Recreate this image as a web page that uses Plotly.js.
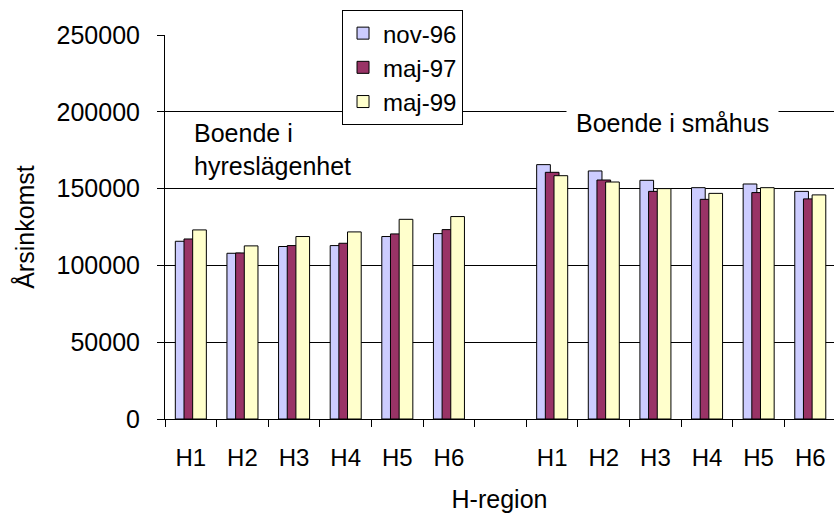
<!DOCTYPE html>
<html>
<head>
<meta charset="utf-8">
<script src="https://cdn.plot.ly/plotly-3.0.1.min.js"></script>
<style>html,body{margin:0;padding:0;background:#fff}</style>
</head>
<body>
<div id="chart" style="width:834px;height:515px"></div>
<script>
const regions = ["H1","H2","H3","H4","H5","H6"];
const groupLabels = ["Boende i<br>hyreslägenhet", "Boende i småhus"];
const seriesNames = ["nov-96","maj-97","maj-99"];
const nov96_hyres  = [115700,107900,112300,112900,118800,120700];
const nov96_smahus = [165600,161500,155400,150600,153000,148200];
const maj97_hyres  = [117200,108100,112900,114400,120500,123300];
const maj97_smahus = [160600,155600,148200,143000,147400,143300];
const maj99_hyres  = [123100,112700,118800,121800,130000,131800];
const maj99_smahus = [158400,154300,150000,146900,150600,145900];

// positions: first group 0..5, empty slot 6, second group 7..12
const xPos = regions.map((r,i)=>i).concat(regions.map((r,i)=>i+7));
const tickText = regions.concat(regions);

const colors = ["#CCCCFF","#993366","#FFFFCC"];
const offsets = [-0.30,-0.132,0.036];
const values = [
  nov96_hyres.concat(nov96_smahus),
  maj97_hyres.concat(maj97_smahus),
  maj99_hyres.concat(maj99_smahus)
];
const fam = "Liberation Sans, Arial, sans-serif";
const font = {family:fam, size:25, color:"#000"};
const tickFontX = {family:fam, size:24, color:"#000"};
const legendFont = {family:fam, size:24, color:"#000"};

const traces = seriesNames.map((n,k)=>({
  type:"bar", name:n, x:xPos, y:values[k],
  width:0.265, offset:offsets[k],
  marker:{color:colors[k], line:{color:"#000", width:1}},
  hoverinfo:"skip"
}));

const layout = {
  width:834, height:515,
  margin:{l:165, r:0, t:35, b:96},
  paper_bgcolor:"#fff", plot_bgcolor:"#fff",
  font:font,
  barmode:"overlay",
  showlegend:true,
  legend:{x:0.2646, y:1.065, xanchor:"left", yanchor:"top",
          bgcolor:"#fff", bordercolor:"#000", borderwidth:1, font:legendFont,
          tracegroupgap:0},
  xaxis:{range:[-0.5,12.46], tickmode:"array", tickvals:xPos, ticktext:tickText,
         ticks:"", showgrid:false, zeroline:false, showline:true, linecolor:"#000", linewidth:1,
         minor:{tickmode:"linear", tick0:-0.5, dtick:1, ticks:"outside", ticklen:7,
                tickcolor:"#000", tickwidth:1, showgrid:false},
         ticklabelstandoff:17, tickfont:tickFontX,
         title:{text:"H-region", font:font, standoff:20}},
  yaxis:{range:[0,250000], dtick:50000, tick0:0, tickformat:"d",
         ticks:"outside", ticklen:7, tickcolor:"#000", showline:true, linecolor:"#000", linewidth:1,
         showgrid:true, gridcolor:"#000", gridwidth:1, zeroline:false,
         ticklabelstandoff:12, tickfont:font,
         title:{text:"Årsinkomst", font:font, standoff:14}},
  annotations:[
    {xref:"paper", yref:"paper", x:0.0404, y:0.703, xanchor:"left", yanchor:"middle",
     align:"left", text:groupLabels[0], showarrow:false, font:font},
    {xref:"paper", yref:"paper", x:0.759, y:0.771, xanchor:"center", yanchor:"middle",
     text:groupLabels[1], showarrow:false, font:font, bgcolor:"#fff", borderpad:9}
  ]
};
Plotly.newPlot("chart", traces, layout, {displayModeBar:false, staticPlot:true});
</script>
</body>
</html>
